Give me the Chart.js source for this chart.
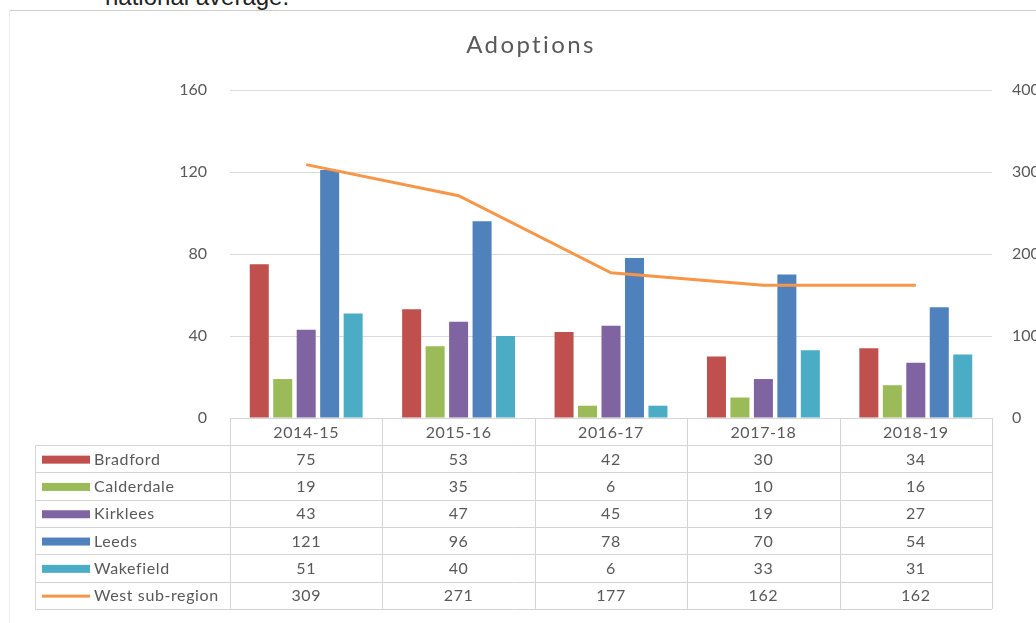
<!DOCTYPE html>
<html>
<head>
<meta charset="utf-8">
<script src="https://cdn.jsdelivr.net/npm/chart.js@4/dist/chart.umd.min.js"></script>
<style>
  html, body { margin: 0; padding: 0; background: #fff; overflow: hidden; width: 1036px; height: 623px; }
  #note { position: absolute; left: 105px; top: -15px; font: 24px "Liberation Sans", Arial, sans-serif; line-height: 24px; color: #222; white-space: nowrap; }
  #frame { position: absolute; left: 9px; top: 10px; width: 1100px; height: 700px; border-top: 1px solid #cfcfcf; border-left: 1px solid #ececec; }
  #wrap { position: absolute; left: 10px; top: 11px; width: 1040px; height: 612px; }
</style>
</head>
<body>
<div id="note">national average.</div>
<div id="frame"></div>
<div id="wrap"><canvas id="chart"></canvas></div>
<script>
// data
const years = ["2014-15", "2015-16", "2016-17", "2017-18", "2018-19"];
const bradford = [75, 53, 42, 30, 34];
const calderdale = [19, 35, 6, 10, 16];
const kirklees = [43, 47, 45, 19, 27];
const leeds = [121, 96, 78, 70, 54];
const wakefield = [51, 40, 6, 33, 31];
const westSubRegion = [309, 271, 177, 162, 162];
const leftTicks = [0, 40, 80, 120, 160];
const rightTicks = [0, 100, 200, 300, 400];
const chartTitle = "Adoptions";

const FONT = "Lato, 'Open Sans', sans-serif";
const GREY = "#595959";

function bar(label, data, color) {
  return {
    type: "bar",
    label: label,
    data: data,
    backgroundColor: color,
    yAxisID: "y",
    categoryPercentage: 0.77,
    barPercentage: 0.81,
    order: 2,
  };
}

// title (letter spaced) and the data table under the plot
const tablePlugin = {
  id: "dataTable",
  afterDraw(chart) {
    const ctx = chart.ctx;
    const xs = chart.scales.x;
    const n = years.length;
    const colW = (xs.right - xs.left) / n;
    const top = chart.chartArea.bottom;
    const headH = 27;
    const rowH = 27.3;
    const left = 25;
    const right = xs.right;
    const rows = chart.data.datasets.length;
    const bottom = top + headH + rowH * rows;

    ctx.save();
    // title
    ctx.letterSpacing = "2.4px";
    ctx.font = "24px " + FONT;
    ctx.fillStyle = GREY;
    ctx.textAlign = "center";
    ctx.textBaseline = "alphabetic";
    ctx.fillText(chartTitle, chart.width / 2 + 1, 42);

    ctx.strokeStyle = "#d4d4d4";
    ctx.lineWidth = 1;
    ctx.beginPath();
    ctx.moveTo(xs.left, top + 0.5);
    ctx.lineTo(right, top + 0.5);
    for (let i = 0; i <= n; i++) {
      const x = Math.round(xs.left + i * colW) + 0.5;
      ctx.moveTo(x, top);
      ctx.lineTo(x, bottom);
    }
    ctx.moveTo(left + 0.5, top + headH);
    ctx.lineTo(left + 0.5, bottom);
    for (let r = 0; r <= rows; r++) {
      const y = Math.round(top + headH + r * rowH) + 0.5;
      ctx.moveTo(left, y);
      ctx.lineTo(right, y);
    }
    ctx.stroke();

    ctx.letterSpacing = "0.6px";
    ctx.font = "16px " + FONT;
    ctx.fillStyle = GREY;
    ctx.textBaseline = "middle";
    ctx.textAlign = "center";
    years.forEach((yr, i) => {
      ctx.fillText(yr, xs.getPixelForValue(i), top + headH / 2 + 1);
    });

    chart.data.datasets.forEach((ds, r) => {
      const cy = top + headH + r * rowH + rowH / 2 + 1;
      if (ds.type === "line") {
        ctx.fillStyle = ds.borderColor;
        ctx.fillRect(left + 7, cy - 1.5, 48, 3);
      } else {
        ctx.fillStyle = ds.backgroundColor;
        ctx.fillRect(left + 7, cy - 4, 48, 8);
      }
      ctx.fillStyle = GREY;
      ctx.textAlign = "left";
      ctx.fillText(ds.label, left + 59, cy);
      ctx.textAlign = "center";
      ds.data.forEach((v, i) => {
        ctx.fillText(String(v), xs.getPixelForValue(i), cy);
      });
    });
    ctx.restore();
  },
};

new Chart(document.getElementById("chart"), {
  data: {
    labels: years,
    datasets: [
      bar("Bradford", bradford, "#C0504D"),
      bar("Calderdale", calderdale, "#9BBB59"),
      bar("Kirklees", kirklees, "#8064A2"),
      bar("Leeds", leeds, "#4F81BD"),
      bar("Wakefield", wakefield, "#4BACC6"),
      {
        type: "line",
        label: "West sub-region",
        data: westSubRegion,
        borderColor: "#F79646",
        backgroundColor: "#F79646",
        borderWidth: 3,
        pointRadius: 0,
        tension: 0,
        yAxisID: "y1",
        order: 1,
      },
    ],
  },
  options: {
    responsive: true,
    maintainAspectRatio: false,
    animation: false,
    layout: { padding: { top: 79, left: 0, right: 0, bottom: 0 } },
    plugins: {
      legend: { display: false },
      tooltip: { enabled: false },
      title: { display: false },
    },
    scales: {
      x: {
        grid: { display: false },
        border: { display: false },
        ticks: { display: false },
        afterFit(scale) { scale.height = 205; },
      },
      y: {
        position: "left",
        min: 0,
        max: 160,
        afterBuildTicks(scale) { scale.ticks = leftTicks.map((v) => ({ value: v })); },
        ticks: { color: GREY, padding: 23, font: { family: FONT, size: 16 } },
        grid: { color: "#dadada", drawTicks: false },
        border: { display: false },
        afterFit(scale) { scale.width = 220; },
      },
      y1: {
        position: "right",
        min: 0,
        max: 400,
        afterBuildTicks(scale) { scale.ticks = rightTicks.map((v) => ({ value: v })); },
        ticks: { color: GREY, padding: 20, font: { family: FONT, size: 16 } },
        grid: { drawOnChartArea: false, drawTicks: false },
        border: { display: false },
        afterFit(scale) { scale.width = 58; },
      },
    },
  },
  plugins: [tablePlugin],
});
</script>
</body>
</html>
